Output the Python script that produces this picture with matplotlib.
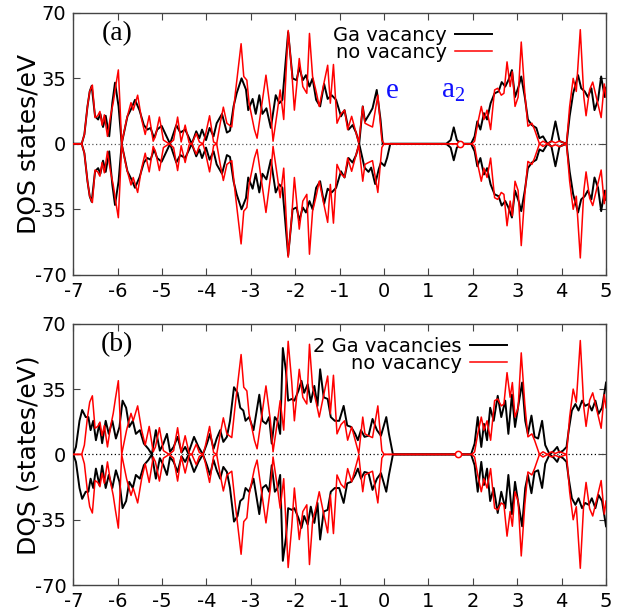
import numpy as np
import matplotlib
matplotlib.use("Agg")
import matplotlib.pyplot as plt

plt.rcParams['font.family'] = ['DejaVu Sans']
plt.rcParams['axes.unicode_minus'] = False

# no vacancy (same in both panels, spin-down is the mirror)
red_e = [-7.0, -6.81, -6.75, -6.68, -6.63, -6.57, -6.51, -6.45, -6.40, -6.35, -6.30, -6.23, -6.16, -6.10,
         -6.05, -5.985, -5.95, -5.91, -5.86, -5.80, -5.70, -5.65, -5.55, -5.46, -5.38, -5.29, -5.20, -5.15,
         -5.06, -4.97, -4.84, -4.74, -4.65, -4.57, -4.48, -4.39, -4.33, -4.23, -4.16, -4.08, -4.03, -3.93,
         -3.84, -3.77, -3.69, -3.62, -3.54, -3.43, -3.35, -3.22, -3.16, -3.09, -3.04, -2.92, -2.86, -2.77,
         -2.66, -2.56, -2.50, -2.40, -2.34, -2.26, -2.16, -2.08, -2.02, -1.91, -1.83, -1.74, -1.68, -1.61,
         -1.53, -1.46, -1.37, -1.27, -1.21, -1.14, -1.06, -0.97, -0.89, -0.82, -0.73, -0.65, -0.57, -0.48,
         -0.43, -0.35, -0.26, -0.14, -0.05, 0.0, 1.98, 2.04, 2.11, 2.19, 2.25, 2.32, 2.40, 2.49, 2.56, 2.64,
         2.70, 2.77, 2.84, 2.89, 2.95, 3.02, 3.09, 3.17, 3.24, 3.33, 3.39, 3.50, 3.58, 3.68, 3.77, 3.86,
         3.95, 4.11, 4.18, 4.26, 4.33, 4.42, 4.50, 4.55, 4.63, 4.70, 4.78, 4.89, 4.96, 5.0]
red_v = [0, 0, 5, 20, 28, 31.4, 14, 15, 17.3, 10, 15.5, 4, 15, 22,
         30, 39.5, 22, 0, 6, 13, 22, 18, 26, 13, 5, 15, 1.4, 4,
         14.3, 2, 0, 2, 14.3, 1, 10, 0.5, 0, 5.5, 1, 0, 4, 15,
         1, 0, 11, 19.6, 11, 9, 27, 53.5, 36, 34, 21.7, 7.6, 3, 18,
         36.7, 18, 1.4, 18, 28.8, 13, 60.6, 39, 18, 45.6, 30.6, 27, 59, 36,
         28, 20, 30.6, 42, 21.7, 42.4, 11, 16, 18, 7.6, 14.7, 7.6, 0.5, 20,
         11, 10, 9, 26, 2, 0, 0, 1.4, 11, 20, 13, 18, 7.6, 28.8, 29.7, 26,
         27, 43.8, 30.6, 38.5, 20, 25, 54.4, 27, 9.4, 11, 7.6, 0, 1.4, 0, 1.4, 0.5,
         1.5, 0, 20, 35, 28, 61, 25, 15, 29, 33, 25, 14, 32, 25]

# one Ga vacancy, spin up
ga1_e = [-7.0, -6.81, -6.75, -6.68, -6.63, -6.585, -6.51, -6.44, -6.39, -6.33, -6.27, -6.19, -6.12, -6.06,
         -5.98, -5.91, -5.78, -5.69, -5.61, -5.51, -5.41, -5.33, -5.26, -5.18, -5.11, -5.01, -4.90, -4.82,
         -4.68, -4.59, -4.48, -4.33, -4.23, -4.16, -4.10, -4.01, -3.93, -3.84, -3.77, -3.65, -3.54, -3.47,
         -3.39, -3.32, -3.21, -3.11, -3.06, -2.96, -2.89, -2.81, -2.74, -2.65, -2.55, -2.44, -2.36, -2.29,
         -2.16, -2.06, -1.97, -1.91, -1.83, -1.76, -1.68, -1.61, -1.53, -1.44, -1.35, -1.27, -1.18, -1.08,
         -0.97, -0.89, -0.80, -0.71, -0.63, -0.56, -0.48, -0.43, -0.33, -0.26, -0.165, -0.08, -0.03, 1.40,
         1.50, 1.57, 1.64, 1.74, 1.96, 2.04, 2.10, 2.17, 2.25, 2.32, 2.40, 2.49, 2.58, 2.65, 2.73, 2.80,
         2.88, 2.95, 3.03, 3.09, 3.17, 3.24, 3.33, 3.43, 3.50, 3.58, 3.68, 3.77, 3.86, 3.95, 4.11, 4.18,
         4.26, 4.37, 4.44, 4.52, 4.59, 4.67, 4.74, 4.82, 4.89, 4.97, 5.0]
ga1_v = [0, 0, 5, 20, 28, 31, 14.7, 13, 16, 9, 15, 4, 22, 32.7,
         20, 0, 14.7, 19, 23.5, 18, 10, 7.6, 8.5, 3, 7.6, 9.6, 4, 0,
         10, 6, 7.6, 0, 6.7, 3, 7.6, 2, 8.5, 4, 11, 16, 6, 7,
         20, 27, 35, 29, 18, 24, 16, 26, 16, 19, 8.5, 26, 21.7, 23.5,
         59.7, 35, 34, 41, 34, 36.7, 30.6, 35, 23.5, 20, 32, 24, 26, 23.5,
         14.7, 18, 7.6, 10, 6, 0, 20, 12, 16, 19, 28.8, 13, 0, 0,
         2, 8.8, 2, 0, 0, 4, 12, 7.6, 16.4, 13, 21.7, 27, 28, 33, 30.6, 34,
         39.4, 25, 30.6, 36, 25, 13, 10, 8.5, 3, 4, 0, 1.4, 12, 1.5, 0, 14.7,
         27, 36.7, 29.7, 28, 25, 29.7, 18, 23.5, 36, 25, 30]

# one Ga vacancy, spin down near the gap (differs from the mirror)
ga1_tail_e = [-0.56, -0.44, -0.35, -0.29, -0.20, -0.12, -0.07, 0.01, 0.07, 0.14]
ga1_tail_v = [0, -12.7, -15, -12.7, -21.5, -13.6, -10, -11.8, -7.4, 0]

# two Ga vacancies
ga2_e = [-7.0, -6.94, -6.86, -6.80, -6.72, -6.66, -6.61, -6.55, -6.49, -6.41, -6.35, -6.27, -6.20, -6.12,
         -6.04, -5.96, -5.89, -5.81, -5.74, -5.66, -5.59, -5.50, -5.41, -5.31, -5.23, -5.14, -5.05, -4.97,
         -4.89, -4.82, -4.74, -4.65, -4.56, -4.48, -4.41, -4.28, -4.18, -4.08, -3.99, -3.92, -3.84, -3.77,
         -3.69, -3.62, -3.54, -3.47, -3.38, -3.30, -3.24, -3.17, -3.12, -3.04, -2.94, -2.81, -2.74, -2.66,
         -2.59, -2.53, -2.46, -2.40, -2.34, -2.28, -2.21, -2.16, -2.08, -2.02, -1.93, -1.86, -1.80, -1.72,
         -1.65, -1.57, -1.50, -1.44, -1.36, -1.27, -1.20, -1.11, -1.01, -0.91, -0.83, -0.74, -0.65, -0.59,
         -0.52, -0.44, -0.35, -0.26, -0.16, -0.07, 0.05, 0.11, 0.20, 1.96, 2.04, 2.11, 2.19, 2.25, 2.32,
         2.39, 2.47, 2.56, 2.64, 2.73, 2.80, 2.88, 2.95, 3.03, 3.11, 3.18, 3.24, 3.32, 3.39, 3.47, 3.56,
         3.63, 3.73, 3.83, 3.90, 3.95, 4.03, 4.11, 4.16, 4.23, 4.31, 4.38, 4.46, 4.53, 4.61, 4.68, 4.76,
         4.83, 4.91, 5.0]
ga2_v = [0, 4, 18, 23.8, 20, 20, 13, 18, 7.6, 16.4, 6, 18, 11, 18,
         8.5, 14.7, 28.8, 25, 14.7, 18, 11, 13, 5.8, 3, 0, 13, 2, 5.8,
         11, 1.4, 4, 9.4, 1, 4, 0.5, 9.4, 4, 0, 5.8, 11, 3, 8.5,
         13, 6.7, 9.4, 18, 36, 33, 25, 23.5, 18, 20, 13, 32, 18, 16.4,
         20, 5.8, 20, 18, 11, 57, 44.7, 28.8, 29.7, 28.8, 34, 39.4, 33, 37.6,
         28, 36.7, 26, 45.6, 30.6, 29.7, 20, 18, 18, 26, 15.5, 14.7, 11, 7.6,
         13, 9.4, 10, 19, 13, 10, 20, 11, 0, 0, 5.8, 20, 4, 16.4, 7.6,
         25, 18, 31.4, 20, 28.8, 11, 32, 14.7, 27, 38.5, 18, 11, 20.8, 9.4, 8.5, 18,
         5, 0, 2, 4, 1, 2, 4, 13, 23.5, 27, 23.5, 28.8, 26, 27, 23.5, 28.8,
         21.7, 25, 38.5]

# small loop of the no-vacancy curve in the gap
loop_e = [[1.72], [1.67]]

panels = ['(a)', '(b)']
black_labels = ['Ga vacancy', '2 Ga vacancies']
red_label = 'no vacancy'
ylabels = ['DOS states/eV', 'DOS (states/eV)']

fig = plt.figure(figsize=(6.29, 6.12), dpi=100)
ax_a = fig.add_axes([0.1165, 0.551, 0.847, 0.428])
ax_b = fig.add_axes([0.1165, 0.044, 0.847, 0.427])

red_e = np.array(red_e)
red_v = np.array(red_v)

# spin down of one Ga vacancy: mirror outside the gap edge, measured tail inside
ga1_e = np.array(ga1_e)
ga1_v = np.array(ga1_v)
lo = ga1_e < -0.56
hi = ga1_e > 0.2
ga1_dn_e = np.concatenate([ga1_e[lo], ga1_tail_e, ga1_e[hi]])
ga1_dn_v = np.concatenate([-ga1_v[lo], ga1_tail_v, -ga1_v[hi]])

curves = [
    (ga1_e, ga1_v, ga1_dn_e, ga1_dn_v),
    (np.array(ga2_e), np.array(ga2_v), np.array(ga2_e), -np.array(ga2_v)),
]

for i, ax in enumerate([ax_a, ax_b]):
    ue, uv, de, dv = curves[i]
    ax.axhline(0, color='#555555' if i == 0 else 'black', lw=0.9, ls=(0, (1, 2)), zorder=1)
    ax.plot(ue, uv, color='black', lw=1.4, label=black_labels[i], zorder=3, solid_joinstyle='round')
    ax.plot(de, dv, color='black', lw=1.4, zorder=3, solid_joinstyle='round')
    ax.plot(red_e, red_v, color='#ff0000', lw=1.1, label=red_label, zorder=4, solid_joinstyle='round')
    ax.plot(red_e, -red_v, color='#ff0000', lw=1.1, zorder=4, solid_joinstyle='round')
    ax.plot(loop_e[i], [0], 'o', ms=4.5, mfc='white', mec='#ff0000', mew=1.1, zorder=5)

    ax.set_xlim(-7, 5)
    ax.set_ylim(-70, 70)
    ax.set_xticks(range(-7, 6))
    ax.set_yticks([70, 35, 0, -35, -70])
    ax.tick_params(direction='in', top=True, right=True, length=5, width=0.8,
                   labelsize=14, pad=5, color='#444444')
    for s in ax.spines.values():
        s.set_color('#444444')
        s.set_linewidth(1.0)

    ax.text(-6.02, 59, panels[i], family='Liberation Serif', fontsize=20, ha='center', va='center')
    fig.text(0.046, 0.765 if i == 0 else 0.257, ylabels[i], rotation=90, fontsize=18,
             ha='center', va='center')

    leg = ax.legend(loc='upper right', bbox_to_anchor=(0.80 if i == 0 else 0.828, 0.98),
                    frameon=False, markerfirst=False, fontsize=14, handlelength=1.9,
                    labelspacing=-0.1, handletextpad=0.4, borderaxespad=0)
    for t in leg.get_texts():
        t.set_ha('right')

ax_a.text(0.18, 28, 'e', family='Liberation Serif', fontsize=21, color='#1010ff', ha='center', va='center')
ax_a.text(1.55, 28, r'$\mathregular{a_2}$', family='Liberation Serif', fontsize=21, color='#1010ff',
          ha='center', va='center')

fig.savefig('out.png', dpi=100)
